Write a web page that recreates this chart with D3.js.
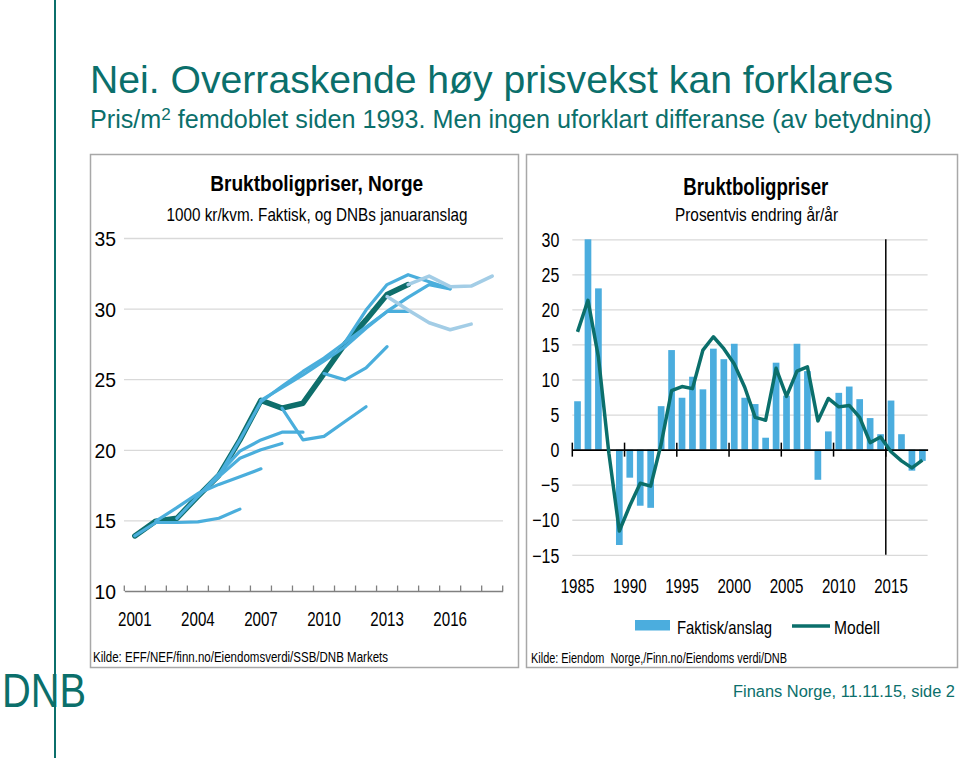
<!DOCTYPE html>
<html><head><meta charset="utf-8">
<script src="https://cdn.jsdelivr.net/npm/d3@7"></script>
<style>
body{margin:0;background:#fff}
svg{display:block}
text{font-family:"Liberation Sans",Arial,Helvetica,sans-serif}
</style></head>
<body><svg id="c" width="960" height="758"></svg>
<script>
// ---------- DATA ----------
// Left chart: Bruktboligpriser, Norge (1000 kr/kvm)
const leftYears = d3.range(2001, 2019);
const leftXTickLabels = ['2001','2004','2007','2010','2013','2016'];
const leftYTicks = [10, 15, 20, 25, 30, 35];
// Actual (Faktisk), from 2001
const actualStart = 2001;
const actualValues = [13.9, 14.95, 15.15, 16.7, 18.2, 20.7, 23.5, 22.95, 23.3, 25.4, 27.5, 29.2, 31.0, 31.7];
// DNB January forecasts (start year + values)
const fc2001Start = 2001, fc2001 = [13.9, 14.85, 14.85, 14.9, 15.15, 15.8];
const fc2002Start = 2002, fc2002 = [14.95, 15.9, 16.9, 17.55, 18.1, 18.65];
const fc2003Start = 2003, fc2003 = [15.15, 16.7, 18.1, 19.4, 20.0, 20.45];
const fc2004Start = 2004, fc2004 = [16.7, 18.3, 19.9, 20.7, 21.25, 21.25];
const fc2005Start = 2005, fc2005 = [18.2, 20.7, 23.4, 24.5, 25.55, 26.5, 27.6, 28.7, 29.8, 29.8];
const fc2007Start = 2007, fc2007 = [23.5, 24.4, 25.3, 26.3, 27.3];
const fc2008Start = 2008, fc2008 = [22.95, 20.7, 20.95, 22.0, 23.05];
const fc2010Start = 2010, fc2010 = [25.4, 24.95, 25.8, 27.3];
const fc2011Start = 2011, fc2011 = [27.3, 28.6, 29.8, 30.8, 31.7, 31.4];
const fc2012Start = 2011, fc2012 = [27.6, 29.9, 31.7, 32.4, 31.9, 31.4];
const fc2013Start = 2013, fc2013 = [30.85, 29.9, 29.0, 28.5, 28.9];
const fc2014Start = 2014, fc2014 = [31.7, 32.3, 31.55, 31.6, 32.3];

// Right chart: Bruktboligpriser, prosentvis endring år/år
const rightYears = d3.range(1985, 2019);
const rightXTickLabels = ['1985','1990','1995','2000','2005','2010','2015'];
const rightYTicks = [-15, -10, -5, 0, 5, 10, 15, 20, 25, 30];
const faktiskAnslag = [6.9, 30.0, 23.0, 0.0, -13.6, -4.0, -8.0, -8.3, 6.2, 14.2,
  7.4, 10.4, 8.6, 14.4, 12.9, 15.1, 7.4, 6.5, 1.7, 12.4,
  7.7, 15.1, 11.2, -4.3, 2.6, 8.1, 9.0, 7.2, 4.5, 2.2,
  7.0, 2.2, -3.0, -1.6];
const modell = [16.8, 21.3, 13.2, -0.5, -11.6, -8.0, -4.8, -5.2, 0.8, 8.4,
  9.0, 8.7, 14.2, 16.1, 14.4, 12.2, 8.9, 4.6, 4.2, 11.6,
  7.6, 11.2, 11.8, 4.1, 7.3, 6.1, 6.3, 4.6, 1.0, 1.8,
  -0.3, -1.6, -2.6, -1.5];
const forecastSplitYear = 2015;

// ---------- STYLE ----------
const TEAL = '#0b6f6b';
const DARK = '#0e6e6b';
const LIGHT = '#4aaedc';
const PALE = '#a3cde6';
const BAR = '#4badde';
const GRID = '#d9d9d9';

const svg = d3.select('#c');

function fitFont(t, target) {
  const w = t.node().getBBox().width;
  const s = parseFloat(t.attr('font-size'));
  t.attr('font-size', (s * target / w).toFixed(2));
}
function squeeze(sel, k) {
  sel.each(function () {
    const w = this.getComputedTextLength();
    this.setAttribute('textLength', (w * k).toFixed(2));
    this.setAttribute('lengthAdjust', 'spacingAndGlyphs');
  });
}
function fixW(sel, w) {
  sel.attr('textLength', w).attr('lengthAdjust', 'spacingAndGlyphs');
}

// ---------- PAGE FRAME ----------
svg.append('line').attr('x1', 55).attr('x2', 55).attr('y1', 0).attr('y2', 758)
  .attr('stroke', TEAL).attr('stroke-width', 2);

const title = svg.append('text').attr('x', 90).attr('y', 93).attr('font-size', 36)
  .attr('fill', TEAL).text('Nei. Overraskende høy prisvekst kan forklares');
fitFont(title, 803);

const sub = svg.append('text').attr('x', 90).attr('y', 128).attr('font-size', 23).attr('fill', TEAL);
sub.append('tspan').text('Pris/m');
sub.append('tspan').attr('font-size', '0.68em').attr('baseline-shift', '45%').text('2');
sub.append('tspan').text(' femdoblet siden 1993. Men ingen uforklart differanse (av betydning)');
fitFont(sub, 842);

const foot = svg.append('text').attr('x', 955).attr('y', 697).attr('text-anchor', 'end')
  .attr('font-size', 17).attr('fill', TEAL).text('Finans Norge, 11.11.15, side 2');
fitFont(foot, 222);

// DNB logo (single text element)
const logo = svg.append('text').attr('x', 2).attr('y', 707).attr('fill', TEAL).attr('font-size', 48)
  .attr('font-family', 'Inter,"Open Sans","Liberation Sans",sans-serif').attr('font-weight', 200)
  .text('DNB');
fixW(logo, 84);

// panels
svg.append('rect').attr('x', 90.5).attr('y', 154.5).attr('width', 428).attr('height', 513)
  .attr('fill', '#fff').attr('stroke', '#a8a8a8').attr('stroke-width', 1.5);
svg.append('rect').attr('x', 526.5).attr('y', 154.5).attr('width', 431).attr('height', 513)
  .attr('fill', '#fff').attr('stroke', '#a8a8a8').attr('stroke-width', 1.5);

// ---------- LEFT CHART ----------
const L = svg.append('g');
const xL = d3.scaleBand().domain(leftYears).range([124.3, 502.7]);
const yL = d3.scaleLinear().domain([10, 35]).range([591, 238]);
const cxL = yr => xL(yr) + xL.bandwidth() / 2;

const lt = L.append('text').attr('x', 316.7).attr('y', 191).attr('text-anchor', 'middle')
  .attr('font-size', 22).attr('font-weight', 'bold').text('Bruktboligpriser, Norge');
fixW(lt, 213);
const ls = L.append('text').attr('x', 317).attr('y', 220.5).attr('text-anchor', 'middle')
  .attr('font-size', 18.5).text('1000 kr/kvm. Faktisk, og DNBs januaranslag');
fixW(ls, 301);

// y axis with gridlines
const yAxisL = L.append('g').attr('transform', 'translate(124,0)')
  .call(d3.axisLeft(yL).tickValues(leftYTicks).tickSize(-379).tickPadding(8));
yAxisL.select('.domain').remove();
yAxisL.selectAll('.tick line').attr('stroke', GRID).attr('stroke-width', 1.3)
  .attr('stroke-opacity', d => d === 10 ? 0 : 1);
yAxisL.selectAll('.tick text').attr('font-size', 21).attr('fill', '#000')
  .attr('font-family', '"Liberation Sans",Arial,sans-serif').attr('dy', '0.36em');
squeeze(yAxisL.selectAll('.tick text'), 0.92);

// x axis
const xAxisL = L.append('g').attr('transform', 'translate(0,591)')
  .call(d3.axisBottom(xL).tickValues(leftXTickLabels.map(Number)).tickSize(0).tickPadding(20));
xAxisL.select('.domain').attr('stroke', '#808080').attr('stroke-width', 1.3);
xAxisL.selectAll('.tick text').attr('font-size', 21).attr('fill', '#000')
  .attr('font-family', '"Liberation Sans",Arial,sans-serif');
squeeze(xAxisL.selectAll('.tick text'), 0.72);
const edgesL = leftYears.map(y => xL(y)).concat([xL.range()[1]]);
L.append('g').selectAll('line').data(edgesL).join('line')
  .attr('x1', d => d).attr('x2', d => d).attr('y1', 591).attr('y2', 585.5)
  .attr('stroke', '#808080').attr('stroke-width', 1.3);

// lines
const lineL = d3.line().x(d => cxL(d.year)).y(d => yL(d.value));
const toPts = (start, vals) => vals.map((v, i) => ({ year: start + i, value: v }));
const linesG = L.append('g').attr('fill', 'none').attr('stroke-linejoin', 'round').attr('stroke-linecap', 'round');
linesG.append('path').attr('d', lineL(toPts(actualStart, actualValues)))
  .attr('stroke', DARK).attr('stroke-width', 5.5);
const lightSeries = [[fc2001Start, fc2001], [fc2002Start, fc2002], [fc2003Start, fc2003], [fc2004Start, fc2004],
  [fc2005Start, fc2005], [fc2007Start, fc2007], [fc2008Start, fc2008], [fc2010Start, fc2010],
  [fc2011Start, fc2011], [fc2012Start, fc2012]];
lightSeries.forEach(([s, v]) => {
  linesG.append('path').attr('d', lineL(toPts(s, v))).attr('stroke', LIGHT).attr('stroke-width', 3.2);
});
[[fc2013Start, fc2013], [fc2014Start, fc2014]].forEach(([s, v]) => {
  linesG.append('path').attr('d', lineL(toPts(s, v))).attr('stroke', PALE).attr('stroke-width', 3.6);
});

const lsrc = L.append('text').attr('x', 93).attr('y', 662).attr('font-size', 14)
  .text('Kilde: EFF/NEF/finn.no/Eiendomsverdi/SSB/DNB Markets');
fixW(lsrc, 295);

// ---------- RIGHT CHART ----------
const R = svg.append('g');
const xR = d3.scaleBand().domain(rightYears).range([572.3, 927.6]);
const yR = d3.scaleLinear().domain([-15, 30]).range([554.8, 239.3]);
const cxR = yr => xR(yr) + xR.bandwidth() / 2;

const rt = R.append('text').attr('x', 755.8).attr('y', 195).attr('text-anchor', 'middle')
  .attr('font-size', 23).attr('font-weight', 'bold').text('Bruktboligpriser');
fixW(rt, 145);
const rs = R.append('text').attr('x', 756.5).attr('y', 221).attr('text-anchor', 'middle')
  .attr('font-size', 19).text('Prosentvis endring år/år');
fixW(rs, 163);

const yAxisR = R.append('g').attr('transform', 'translate(572.3,0)')
  .call(d3.axisLeft(yR).tickValues(rightYTicks).tickSize(-355.3).tickPadding(13));
yAxisR.select('.domain').remove();
yAxisR.selectAll('.tick line').attr('stroke', GRID).attr('stroke-width', 1.3)
  .attr('stroke-opacity', d => d === 0 ? 0 : 1);
yAxisR.selectAll('.tick text').attr('font-size', 20).attr('fill', '#000')
  .attr('font-family', '"Liberation Sans",Arial,sans-serif').attr('dy', '0.36em');
squeeze(yAxisR.selectAll('.tick text'), 0.8);

// bars
const bw = xR.bandwidth();
R.append('g').selectAll('rect').data(rightYears.map((y, i) => ({ year: y, value: faktiskAnslag[i] })))
  .join('rect')
  .attr('x', d => xR(d.year) + bw * 0.18)
  .attr('width', bw * 0.64)
  .attr('y', d => yR(Math.max(0, d.value)))
  .attr('height', d => Math.abs(yR(d.value) - yR(0)))
  .attr('fill', BAR);

// zero axis + ticks
const xAxisR = R.append('g').attr('transform', `translate(0,${yR(0)})`)
  .call(d3.axisBottom(xR).tickValues(rightXTickLabels.map(Number)).tickSize(0).tickPadding(0));
xAxisR.select('.domain').attr('stroke', '#000').attr('stroke-width', 1.6);
xAxisR.selectAll('.tick text').remove();
const tickYearsR = rightXTickLabels.map(Number);
R.append('g').selectAll('line').data(tickYearsR).join('line')
  .attr('x1', d => xR(d)).attr('x2', d => xR(d))
  .attr('y1', yR(0) - 7).attr('y2', yR(0) + 7)
  .attr('stroke', '#000').attr('stroke-width', 1.5);
R.append('g').selectAll('text').data(rightXTickLabels).join('text')
  .attr('x', d => cxR(+d)).attr('y', 593).attr('text-anchor', 'middle')
  .attr('font-size', 21).text(d => d)
  .call(s => squeeze(s, 0.72));

// forecast split line
R.append('line').attr('x1', xR(forecastSplitYear)).attr('x2', xR(forecastSplitYear))
  .attr('y1', yR(30)).attr('y2', yR(-15)).attr('stroke', '#000').attr('stroke-width', 1.5);

// model line
const lineR = d3.line().x(d => cxR(d.year)).y(d => yR(d.value));
R.append('path').attr('d', lineR(rightYears.map((y, i) => ({ year: y, value: modell[i] }))))
  .attr('fill', 'none').attr('stroke', TEAL).attr('stroke-width', 3.5)
  .attr('stroke-linejoin', 'round');

// legend
R.append('rect').attr('x', 635).attr('y', 620).attr('width', 35).attr('height', 10.5).attr('fill', BAR);
const lg1 = R.append('text').attr('x', 677).attr('y', 634).attr('font-size', 19).text('Faktisk/anslag');
fixW(lg1, 95);
R.append('line').attr('x1', 792).attr('x2', 830).attr('y1', 626).attr('y2', 626)
  .attr('stroke', TEAL).attr('stroke-width', 3.5);
const lg2 = R.append('text').attr('x', 834).attr('y', 634).attr('font-size', 19).text('Modell');
fixW(lg2, 46);

const rsrc = R.append('text').attr('x', 531).attr('y', 663).attr('font-size', 14)
  .attr('xml:space', 'preserve').text('Kilde: Eiendom  Norge,/Finn.no/Eiendoms verdi/DNB');
fixW(rsrc, 256);
</script></body></html>
